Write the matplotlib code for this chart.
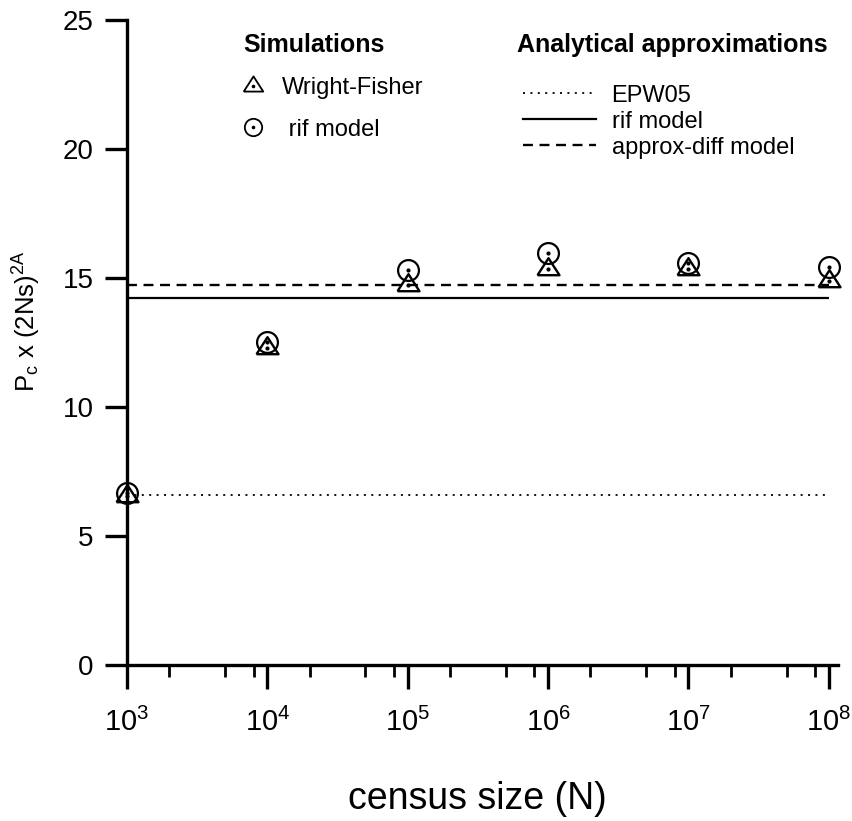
import numpy as np
import matplotlib
matplotlib.use('Agg')
import matplotlib.pyplot as plt
from matplotlib.lines import Line2D
from matplotlib.ticker import LogLocator

plt.rcParams['font.family'] = ['Liberation Sans', 'DejaVu Sans']
plt.rcParams['mathtext.fontset'] = 'custom'
plt.rcParams['mathtext.rm'] = 'Liberation Sans'
plt.rcParams['mathtext.it'] = 'Liberation Sans:italic'

# census sizes
N = [1e3, 1e4, 1e5, 1e6, 1e7, 1e8]

# simulation results, Pc x (2Ns)^2A
wright_fisher = [6.57, 12.29, 14.74, 15.34, 15.34, 14.90]
rif_sim = [6.68, 12.52, 15.31, 15.96, 15.59, 15.44]

# analytical approximations (constant in N)
epw05 = 6.58
rif_analytic = 14.24
approx_diff = 14.74

# wide triangle, data point sits at about 2/3 of its height
tri = [(-1, -0.52), (1, -0.52), (0, 1.03), (-1, -0.52)]

fig = plt.figure(figsize=(8.52, 8.21), dpi=100)
ax = fig.add_axes([0.149, 0.19, 0.835, 0.7856])

dotted = (0, (1.1, 3.0))
dashed = (0, (4.2, 2.8))

# analytical lines
ax.hlines(epw05, N[0], N[-1], colors='black', lw=1.3, linestyles=dotted)
ax.hlines(rif_analytic, N[0], N[-1], colors='black', lw=1.6)
ax.hlines(approx_diff, N[0], N[-1], colors='black', lw=1.7, linestyles=dashed)

# simulation markers
ax.plot(N, rif_sim, 'o', ms=15, mfc='none', mec='black', mew=1.6, clip_on=False)
ax.plot(N, rif_sim, 'o', ms=2.0, color='black', clip_on=False)
ax.plot(N, wright_fisher, marker=tri, ls='none', ms=16.3, mfc='none', mec='black',
        mew=1.7, clip_on=False)
ax.plot(N, wright_fisher, 'o', ms=2.0, color='black', clip_on=False)

ax.set_xscale('log')
ax.set_xlim(1e3, 1.17e8)
ax.set_ylim(0, 25)
ax.set_yticks([0, 5, 10, 15, 20, 25])
ax.xaxis.set_major_locator(LogLocator(base=10, numticks=10))
ax.xaxis.set_minor_locator(LogLocator(base=10, subs=[2, 5, 8], numticks=10))

for side in ['top', 'right']:
    ax.spines[side].set_visible(False)
for side in ['left', 'bottom']:
    ax.spines[side].set_linewidth(2.4)

ax.tick_params(axis='y', which='major', length=16, width=2.4, labelsize=20, pad=8)
ax.tick_params(axis='x', which='major', length=17, width=2.4, labelsize=21, pad=14)
ax.tick_params(axis='x', which='minor', length=8.5, width=2.0)

ax.set_xlabel('census size (N)', fontsize=27, va='top')
ax.xaxis.set_label_coords(0.493, -0.18)
ax.set_ylabel(r'P$_\mathregular{c}$ x (2Ns)$^\mathregular{2A}$', fontsize=18.5)
ax.yaxis.set_label_coords(-0.118, 0.533)

# legend titles
ax.text(0.163, 0.962, 'Simulations', transform=ax.transAxes, fontsize=18,
        fontweight='bold', va='center', ha='left')
ax.text(0.5485, 0.961, 'Analytical approximations', transform=ax.transAxes,
        fontsize=18, fontweight='bold', va='center', ha='left')

# legends
tri_h = (Line2D([], [], marker=tri, ls='none', ms=14.5, mfc='none', mec='black', mew=1.3),
         Line2D([], [], marker='o', ls='none', ms=1.6, color='black'))
circ_h = (Line2D([], [], marker='o', ls='none', ms=12.5, mfc='none', mec='black', mew=1.3),
          Line2D([], [], marker='o', ls='none', ms=1.6, color='black'))
leg1 = ax.legend([tri_h, circ_h], ['Wright-Fisher', ' rif model'],
                 loc='upper left', bbox_to_anchor=(0.160, 0.911),
                 frameon=False, fontsize=17, handlelength=1.0, handletextpad=0.76,
                 labelspacing=0.81, borderpad=0, borderaxespad=0)
ax.add_artist(leg1)

line_h = [Line2D([], [], color='black', lw=1.3, ls=dotted),
          Line2D([], [], color='black', lw=1.6),
          Line2D([], [], color='black', lw=1.7, ls=dashed)]
leg2 = ax.legend(line_h, ['EPW05', 'rif model', 'approx-diff model'],
                 loc='upper left', bbox_to_anchor=(0.557, 0.900),
                 frameon=False, fontsize=17, handlelength=3.1, handletextpad=0.64,
                 labelspacing=0.17, borderpad=0, borderaxespad=0)

fig.savefig('out.png', dpi=100)
